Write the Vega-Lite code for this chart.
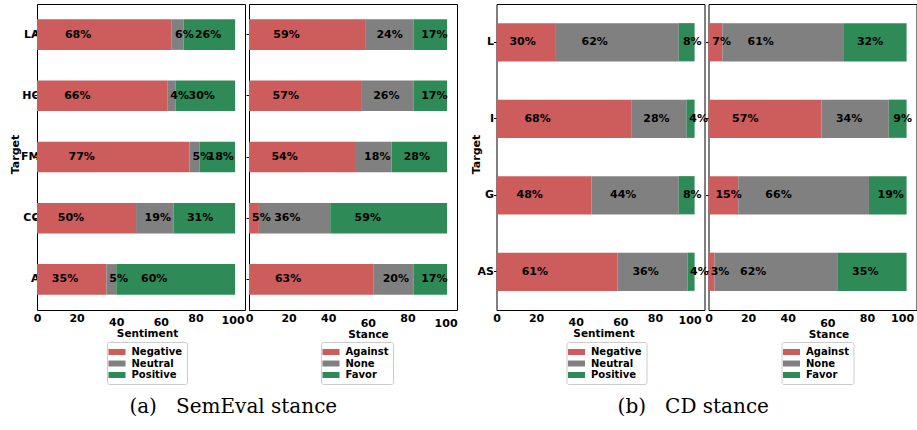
{
  "$schema": "https://vega.github.io/schema/vega-lite/v6.json",
  "padding": {"left": 9, "top": 3, "right": 0, "bottom": 2},
  "background": "white",
  "config": {
    "font": "DejaVu Sans",
    "view": {"stroke": "black", "strokeWidth": 1},
    "axis": {"grid": false, "domain": false, "labelColor": "black", "titleColor": "black", "labelFont": "DejaVu Sans", "titleFont": "DejaVu Sans", "labelFontWeight": "bold", "titleFontWeight": "bold"},
    "legend": {"orient": "none", "title": null, "symbolType": "M-1.42,-0.5H1.42V0.5H-1.42Z", "symbolSize": 144, "symbolStrokeWidth": 0, "labelFont": "DejaVu Sans", "labelFontSize": 10, "labelFontWeight": "bold", "labelColor": "black", "labelOffset": 8.5, "rowPadding": 0.5, "padding": 4, "strokeColor": "#cccccc", "cornerRadius": 2, "fillColor": "white"}
  },
  "datasets": {
    "semSent": [
      {"target": "LA", "cls": "Negative", "value": 68}, {"target": "LA", "cls": "Neutral", "value": 6}, {"target": "LA", "cls": "Positive", "value": 26},
      {"target": "HC", "cls": "Negative", "value": 66}, {"target": "HC", "cls": "Neutral", "value": 4}, {"target": "HC", "cls": "Positive", "value": 30},
      {"target": "FM", "cls": "Negative", "value": 77}, {"target": "FM", "cls": "Neutral", "value": 5}, {"target": "FM", "cls": "Positive", "value": 18},
      {"target": "CC", "cls": "Negative", "value": 50}, {"target": "CC", "cls": "Neutral", "value": 19}, {"target": "CC", "cls": "Positive", "value": 31},
      {"target": "A", "cls": "Negative", "value": 35}, {"target": "A", "cls": "Neutral", "value": 5}, {"target": "A", "cls": "Positive", "value": 60}
    ],
    "semStance": [
      {"target": "LA", "cls": "Against", "value": 59}, {"target": "LA", "cls": "None", "value": 24}, {"target": "LA", "cls": "Favor", "value": 17},
      {"target": "HC", "cls": "Against", "value": 57}, {"target": "HC", "cls": "None", "value": 26}, {"target": "HC", "cls": "Favor", "value": 17},
      {"target": "FM", "cls": "Against", "value": 54}, {"target": "FM", "cls": "None", "value": 18}, {"target": "FM", "cls": "Favor", "value": 28},
      {"target": "CC", "cls": "Against", "value": 5}, {"target": "CC", "cls": "None", "value": 36}, {"target": "CC", "cls": "Favor", "value": 59},
      {"target": "A", "cls": "Against", "value": 63}, {"target": "A", "cls": "None", "value": 20}, {"target": "A", "cls": "Favor", "value": 17}
    ],
    "cdSent": [
      {"target": "L", "cls": "Negative", "value": 30}, {"target": "L", "cls": "Neutral", "value": 62}, {"target": "L", "cls": "Positive", "value": 8},
      {"target": "I", "cls": "Negative", "value": 68}, {"target": "I", "cls": "Neutral", "value": 28}, {"target": "I", "cls": "Positive", "value": 4},
      {"target": "G", "cls": "Negative", "value": 48}, {"target": "G", "cls": "Neutral", "value": 44}, {"target": "G", "cls": "Positive", "value": 8},
      {"target": "AS", "cls": "Negative", "value": 61}, {"target": "AS", "cls": "Neutral", "value": 35.5}, {"target": "AS", "cls": "Positive", "value": 3.5}
    ],
    "cdStance": [
      {"target": "L", "cls": "Against", "value": 7}, {"target": "L", "cls": "None", "value": 61}, {"target": "L", "cls": "Favor", "value": 32},
      {"target": "I", "cls": "Against", "value": 57}, {"target": "I", "cls": "None", "value": 34}, {"target": "I", "cls": "Favor", "value": 9},
      {"target": "G", "cls": "Against", "value": 15}, {"target": "G", "cls": "None", "value": 66}, {"target": "G", "cls": "Favor", "value": 19},
      {"target": "AS", "cls": "Against", "value": 3}, {"target": "AS", "cls": "None", "value": 62}, {"target": "AS", "cls": "Favor", "value": 35}
    ]
  },
  "spacing": 11.5,
  "resolve": {"scale": {"x": "independent", "y": "independent", "color": "independent"}, "legend": {"color": "independent"}},
  "hconcat": [
    {
      "spacing": 4,
      "bounds": "flush",
      "resolve": {"scale": {"x": "independent", "y": "independent", "color": "independent"}, "legend": {"color": "independent"}},
      "title": {"text": "(a)\u00a0\u00a0\u00a0SemEval stance", "orient": "bottom", "anchor": "middle", "font": "DejaVu Serif", "fontSize": 20, "fontWeight": "normal", "color": "black", "offset": 12},
      "hconcat": [
        {
          "width": 208, "height": 306,
          "data": {"name": "semSent"},
          "transform": [{"stack": "value", "groupby": ["target"], "as": ["x0", "x1"]}],
          "layer": [
            {
              "mark": {"type": "bar"},
              "encoding": {
                "y": {"field": "target", "type": "nominal", "sort": null, "scale": {"paddingInner": 0.5, "paddingOuter": 0.25},
                  "axis": {"title": "Target", "titleFontSize": 11, "titleX": -21.5, "titleY": 150, "titleAngle": -90, "titleBaseline": "middle", "titleAlign": "center", "labelFontSize": 11, "ticks": true, "tickSize": 3, "tickColor": "black", "labelPadding": -5}},
                "x": {"field": "x0", "type": "quantitative", "scale": {"domain": [0, 105], "nice": false, "zero": false},
                  "axis": {"values": [0, 20, 40, 60, 80, 100], "title": "Sentiment", "titleFontSize": 10.5, "titleX": 110, "titleY": 18.5, "titleBaseline": "top", "titleAlign": "center", "labelFontSize": 11, "ticks": false, "tickSize": 0, "labelFlush": false, "labelOverlap": false,
                    "labelPadding": {"condition": [{"test": "datum.value == 40 || datum.value == 60", "value": 6}, {"test": "datum.value == 100", "value": 4}], "value": 2},
                    "labelOffset": {"condition": [{"test": "datum.value == 60", "value": 5}, {"test": "datum.value == 100", "value": -2.5}], "value": 0}}},
                "x2": {"field": "x1"},
                "color": {"field": "cls", "type": "nominal", "scale": {"domain": ["Negative", "Neutral", "Positive"], "range": ["#CD5C5C", "#808080", "#2E8B57"]},
                  "legend": {"legendX": 70, "legendY": 338}}
              }
            },
            {
              "mark": {"type": "text", "align": "left", "baseline": "middle", "fontSize": 11, "fontWeight": "bold", "color": "black", "dx": {"expr": "0.396*datum.value+1"}, "text": {"expr": "format(datum.value, '.0f') + '%'"}},
              "encoding": {
                "y": {"field": "target", "type": "nominal", "sort": null},
                "x": {"field": "x0", "type": "quantitative"}
              }
            }
          ]
        },
        {
          "width": 208, "height": 306,
          "data": {"name": "semStance"},
          "transform": [{"stack": "value", "groupby": ["target"], "as": ["x0", "x1"]}],
          "layer": [
            {
              "mark": {"type": "bar"},
              "encoding": {
                "y": {"field": "target", "type": "nominal", "sort": null, "scale": {"paddingInner": 0.5, "paddingOuter": 0.25},
                  "axis": {"title": null, "labels": false, "ticks": true, "tickSize": 3, "tickColor": "black"}},
                "x": {"field": "x0", "type": "quantitative", "scale": {"domain": [0, 105], "nice": false, "zero": false},
                  "axis": {"values": [0, 20, 40, 60, 80, 100], "title": "Stance", "titleFontSize": 10.5, "titleX": 119, "titleY": 19.5, "titleBaseline": "top", "titleAlign": "center", "labelFontSize": 11, "ticks": false, "tickSize": 0, "labelFlush": false, "labelOverlap": false,
                    "labelPadding": {"condition": {"test": "datum.value == 60 || datum.value == 100", "value": 7}, "value": 2},
                    "labelOffset": {"condition": {"test": "datum.value == 100", "value": -1.5}, "value": 0}}},
                "x2": {"field": "x1"},
                "color": {"field": "cls", "type": "nominal", "scale": {"domain": ["Against", "None", "Favor"], "range": ["#CD5C5C", "#808080", "#2E8B57"]},
                  "legend": {"legendX": 72, "legendY": 338}}
              }
            },
            {
              "mark": {"type": "text", "align": "left", "baseline": "middle", "fontSize": 11, "fontWeight": "bold", "color": "black", "dx": {"expr": "0.396*datum.value+1"}, "text": {"expr": "format(datum.value, '.0f') + '%'"}},
              "encoding": {
                "y": {"field": "target", "type": "nominal", "sort": null},
                "x": {"field": "x0", "type": "quantitative"}
              }
            }
          ]
        }
      ]
    },
    {
      "spacing": 4,
      "bounds": "flush",
      "resolve": {"scale": {"x": "independent", "y": "independent", "color": "independent"}, "legend": {"color": "independent"}},
      "title": {"text": "(b)\u00a0\u00a0\u00a0CD stance", "orient": "bottom", "anchor": "middle", "font": "DejaVu Serif", "fontSize": 20, "fontWeight": "normal", "color": "black", "offset": 12},
      "hconcat": [
        {
          "width": 208, "height": 306,
          "data": {"name": "cdSent"},
          "transform": [{"stack": "value", "groupby": ["target"], "as": ["x0", "x1"]}],
          "layer": [
            {
              "mark": {"type": "bar"},
              "encoding": {
                "y": {"field": "target", "type": "nominal", "sort": null, "scale": {"paddingInner": 0.5, "paddingOuter": 0.25},
                  "axis": {"title": "Target", "titleFontSize": 11, "titleX": -20.5, "titleY": 150, "titleAngle": -90, "titleBaseline": "middle", "titleAlign": "center", "labelFontSize": 11, "ticks": true, "tickSize": 3, "tickColor": "black", "labelPadding": 0}},
                "x": {"field": "x0", "type": "quantitative", "scale": {"domain": [0, 105], "nice": false, "zero": false},
                  "axis": {"values": [0, 20, 40, 60, 80, 100], "title": "Sentiment", "titleFontSize": 10.5, "titleX": 107, "titleY": 18.5, "titleBaseline": "top", "titleAlign": "center", "labelFontSize": 11, "ticks": false, "tickSize": 0, "labelFlush": false, "labelOverlap": false,
                    "labelPadding": {"condition": [{"test": "datum.value == 40 || datum.value == 60", "value": 6}, {"test": "datum.value == 100", "value": 4}], "value": 2},
                    "labelOffset": {"condition": [{"test": "datum.value == 60", "value": 5}, {"test": "datum.value == 100", "value": -5}], "value": 0}}},
                "x2": {"field": "x1"},
                "color": {"field": "cls", "type": "nominal", "scale": {"domain": ["Negative", "Neutral", "Positive"], "range": ["#CD5C5C", "#808080", "#2E8B57"]},
                  "legend": {"legendX": 70, "legendY": 338}}
              }
            },
            {
              "mark": {"type": "text", "align": "left", "baseline": "middle", "fontSize": 11, "fontWeight": "bold", "color": "black", "dx": {"expr": "0.396*datum.value+1"}, "text": {"expr": "format(datum.value, '.0f') + '%'"}},
              "encoding": {
                "y": {"field": "target", "type": "nominal", "sort": null},
                "x": {"field": "x0", "type": "quantitative"}
              }
            }
          ]
        },
        {
          "width": 208, "height": 306,
          "data": {"name": "cdStance"},
          "transform": [{"stack": "value", "groupby": ["target"], "as": ["x0", "x1"]}],
          "layer": [
            {
              "mark": {"type": "bar"},
              "encoding": {
                "y": {"field": "target", "type": "nominal", "sort": null, "scale": {"paddingInner": 0.5, "paddingOuter": 0.25},
                  "axis": {"title": null, "labels": false, "ticks": true, "tickSize": 3, "tickColor": "black"}},
                "x": {"field": "x0", "type": "quantitative", "scale": {"domain": [0, 105], "nice": false, "zero": false},
                  "axis": {"values": [0, 20, 40, 60, 80, 100], "title": "Stance", "titleFontSize": 10.5, "titleX": 120, "titleY": 19.5, "titleBaseline": "top", "titleAlign": "center", "labelFontSize": 11, "ticks": false, "tickSize": 0, "labelFlush": false, "labelOverlap": false,
                    "labelPadding": {"condition": {"test": "datum.value == 60", "value": 7}, "value": 2},
                    "labelOffset": {"condition": {"test": "datum.value == 100", "value": -4.5}, "value": 0}}},
                "x2": {"field": "x1"},
                "color": {"field": "cls", "type": "nominal", "scale": {"domain": ["Against", "None", "Favor"], "range": ["#CD5C5C", "#808080", "#2E8B57"]},
                  "legend": {"legendX": 73, "legendY": 338}}
              }
            },
            {
              "mark": {"type": "text", "align": "left", "baseline": "middle", "fontSize": 11, "fontWeight": "bold", "color": "black", "dx": {"expr": "0.396*datum.value+1"}, "text": {"expr": "format(datum.value, '.0f') + '%'"}},
              "encoding": {
                "y": {"field": "target", "type": "nominal", "sort": null},
                "x": {"field": "x0", "type": "quantitative"}
              }
            }
          ]
        }
      ]
    }
  ]
}
